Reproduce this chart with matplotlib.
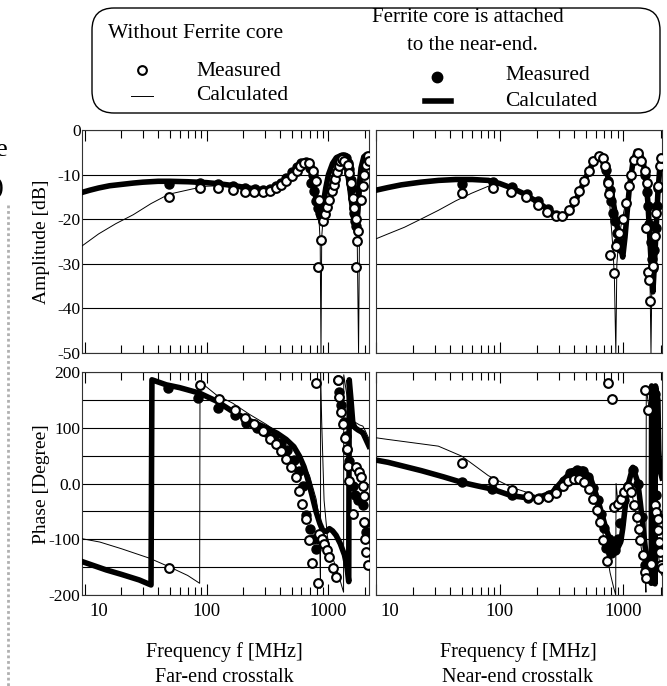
import matplotlib
matplotlib.use('Agg')
import matplotlib.pyplot as plt
from matplotlib.patches import FancyBboxPatch
from matplotlib.ticker import LogLocator, NullFormatter, FixedLocator

plt.rcParams['font.family'] = ['Liberation Serif', 'DejaVu Serif']
plt.rcParams['font.size'] = 14

# ---------------- DATA (MHz, dB / degree) ----------------
# Far-end amplitude
fa_calc_no_f = [9.5, 13, 18, 25, 35, 49, 77, 100, 130, 170, 220, 280, 340, 400, 460, 520, 580, 640, 690, 740, 790,
                830, 855, 868, 880, 910, 960, 1020, 1090, 1170, 1250, 1320, 1400, 1480, 1560, 1640, 1720, 1765,
                1800, 1860, 1930, 2000, 2080, 2150]
fa_calc_no_v = [-26, -23.3, -21, -19, -16.5, -14.4, -13.2, -12.6, -12.5, -12.8, -13.4, -13.9, -13.6, -12.6, -11.2,
                -9.6, -8.0, -7.0, -7.2, -9.0, -13, -18.5, -25, -50, -24, -18.5, -15, -12.3, -9.5, -7.6, -6.8, -7.0,
                -8.3, -10.5, -14, -18.5, -24, -50, -20, -14, -10, -7.5, -6, -6.5]
fa_calc_fe_f = [9.5, 11, 13, 16, 20, 25, 30, 40, 50, 70, 100, 130, 170, 220, 280, 340, 400, 460, 520, 580, 630,
                680, 720, 760, 800, 840, 870, 900, 950, 1000, 1080, 1160, 1250, 1330, 1400, 1480, 1560, 1620,
                1680, 1720, 1780, 1850, 1950, 2050, 2150]
fa_calc_fe_v = [-14, -13.5, -13, -12.5, -12.2, -11.9, -11.7, -11.5, -11.5, -11.6, -11.8, -12.1, -12.5, -13, -13.4,
                -13.2, -12.2, -10.8, -9.3, -8, -7.1, -7.2, -9, -12.5, -16.5, -19, -19.5, -17, -13, -10, -7.5, -6.2,
                -5.8, -6.2, -8, -12, -17, -20.5, -22, -19, -13, -8.5, -6, -5.5, -6]
fa_meas_no_f = [49, 88, 125, 166, 208, 247, 288, 333, 372, 410, 450, 500, 550, 589, 635, 690, 743, 792, 840, 898,
                868, 828, 930, 975, 1018, 1064, 1105, 1140, 1177, 1214, 1246, 1300, 1352, 1440, 1486, 1535, 1583,
                1634, 1687, 1740, 1707, 1687, 1854, 1914, 1974, 2038, 2102, 2142]
fa_meas_no_v = [-15, -13.1, -13.1, -13.4, -13.8, -14, -14, -13.7, -13.1, -12.4, -11.4, -10.4, -9.1, -8, -7.3, -7.3,
                -9.3, -11.5, -15.6, -20.4, -24.6, -30.7, -18.8, -17.2, -15.6, -13.7, -12.4, -11, -9.5, -8.1, -7,
                -6.6, -7, -7.8, -9.6, -11.9, -15.2, -17.4, -20, -22.6, -24.8, -30.7, -15.6, -12.6, -10, -7.8, -5.9,
                -7]
fa_meas_fe_f = [49, 88, 125, 166, 208, 250, 290, 330, 370, 410, 450, 500, 550, 600, 650, 700, 721, 745, 767, 792,
                819, 847, 876, 1250, 1296, 1350, 1400, 1450, 1486, 1535, 1560, 1610, 1634, 1660, 1690]
fa_meas_fe_v = [-12.2, -11.9, -12.2, -12.6, -13, -13.3, -13.5, -13.3, -12.6, -11.8, -10.8, -9.5, -8.3, -7.5, -7.1,
                -8.5, -11.9, -10, -13.7, -15.9, -17.4, -18.5, -19.3, -6.8, -6.1, -6.0, -6.3, -7.5, -8.8, -11.1, -13,
                -16, -18.5, -20.5, -21.5]

# Near-end amplitude
na_calc_no_f = [10, 12.5, 17, 23, 32, 44, 59, 81, 97, 130, 170, 210, 250, 300, 340, 380, 420, 460, 500, 550, 600,
                650, 700, 740, 765, 790, 820, 845, 868, 885, 920, 970, 1030, 1090, 1150, 1220, 1300, 1390, 1470,
                1530, 1580, 1630, 1670, 1700, 1750, 1800, 1860, 1920, 1980, 2050]
na_calc_no_v = [-24.4, -23.3, -21.8, -20, -18, -15.9, -14.2, -12.6, -12.2, -13.5, -15, -17, -18.5, -19.3, -18.8,
                -17, -14.7, -12.5, -10.2, -7.8, -6.2, -5.9, -7, -10.5, -14, -20, -26, -33, -50, -30, -24, -20.5,
                -17, -13.5, -10, -7, -5.3, -6.5, -9, -13, -19, -28, -50, -33, -26, -21, -16, -11, -7.5, -6]
na_calc_fe_f = [10, 12.5, 16, 23, 32, 44, 60, 81, 100, 125, 152, 180, 207, 236, 266, 302, 335, 364, 400, 439, 485,
                530, 575, 618, 660, 701, 740, 770, 820, 872, 930, 987, 1030, 1075, 1120, 1190, 1268, 1350, 1435,
                1510, 1578, 1640, 1700, 1730, 1780, 1844, 1900, 1963, 2050]
na_calc_fe_v = [-13.5, -12.9, -12.3, -11.7, -11.3, -11.1, -11.1, -11.3, -12, -13, -14.1, -15.3, -16.3, -17.5,
                -18.5, -19.6, -19.5, -18.1, -16.5, -14.1, -11.3, -8.9, -7.2, -6.3, -6.5, -7.8, -10, -11.9, -15.5,
                -20, -25, -28.5, -24, -18, -12.6, -7.5, -4.8, -5.2, -6.7, -10.5, -16.3, -25, -33, -36.3, -30,
                -21.5, -14, -8.9, -6]
na_meas_no_f = [49.4, 87.7, 124, 164, 204, 243, 284, 321, 364, 400, 439, 482, 522, 570, 630, 680, 715, 747, 770,
                780, 845, 872, 927, 987, 1051, 1104, 1154, 1228, 1307, 1393, 1482, 1548, 1530, 1578, 1607, 1648,
                1730, 1787, 1844, 1901, 1963, 2025]
na_meas_no_v = [-14.2, -13.1, -13.9, -15, -16.9, -18.4, -19.3, -19.3, -17.9, -15.9, -13.7, -11.5, -9.3, -7, -5.9,
                -6.3, -8.1, -11.9, -14.4, -28.1, -32, -25.9, -23, -20, -16.3, -12.6, -10, -6.7, -5.2, -7, -9.3,
                -11.9, -21.9, -31.9, -33.7, -38.4, -30.4, -23.7, -18.5, -12.6, -8.1, -6.3]
na_meas_fe_f = [49.4, 88, 125, 165, 205, 245, 285, 725, 750, 775, 800, 825, 850, 880, 910, 945, 1500, 1540, 1580,
                1620, 1660, 1700, 1740, 1780, 1820, 1860, 1900]
na_meas_fe_v = [-12.2, -11.7, -12.8, -14.3, -16, -17.8, -19, -9, -11.5, -13.5, -16, -18.5, -20.5, -23, -25, -26.5,
                -10, -14, -17, -21, -25, -29, -31, -27, -22, -17, -13]

# Far-end phase
fp_calc_no_f = [9.5, 13.3, 20, 34, 50, 70, 87.7, 88.3, 100, 120, 164, 225, 309, 423, 578, 699, 792, 840, 860, 862,
                880, 920, 980, 1050, 1150, 1250, 1330, 1335, 1400, 1500, 1650, 1800, 1914, 2000, 2150]
fp_calc_no_v = [-99, -105, -117, -134, -150, -165, -179, 182, 173, 159, 144, 124, 106, 85, 52, 14, -28, -63, -188,
                199, 110, -30, -95, -125, -150, -175, -195, 195, 165, 130, 110, 105, 103, 95, 80]
fp_calc_fe_f = [9.5, 15, 20, 28, 35, 35.6, 46.7, 60, 87.7, 120, 164, 230, 309, 380, 450, 520, 578, 630, 676, 730,
                792, 850, 898, 960, 1018, 1080, 1155, 1250, 1352, 1420, 1466, 1480, 1530, 1583, 1650, 1750, 1850,
                1914, 2000, 2150]
fp_calc_fe_v = [-140, -155, -163, -173, -182, 186, 177, 172, 162, 148, 129, 112, 100, 90, 79, 66, 49, 30, 8, -20,
                -51, -72, -84, -86, -81, -85, -93, -108, -128, -150, -176, 186, 150, 109, 100, 96, 93, 91, 82, 67]
fp_meas_no_f = [48.8, 87.7, 126, 170, 207, 247, 290, 333, 372, 409, 450, 494, 543, 578, 604, 648, 690, 735, 792,
                818, 840, 888, 927, 975, 1018, 1084, 1155, 1191, 1231, 1270, 1327, 1378, 1413, 1440, 1466, 1583,
                1682, 1770, 1854, 1914, 1974, 1974, 2007, 2038, 2102]
fp_meas_no_v = [-152, 177, 151, 132, 118, 106, 94, 80, 70, 58, 44, 29, 11, -13, -36, -63, -102, -143, 180, -179,
                -90, -99, -108, -119, -131, -152, -167, 186, 156, 129, 106, 82, 61, 32, 5, -54, 29, 20, 11, -4, -22,
                -69, -99, -122, -146]
fp_meas_fe_f = [48, 85, 124, 170, 211, 260, 310, 360, 410, 460, 520, 570, 620, 656, 699, 744, 792, 830, 1191,
                1231, 1270, 1330, 1380, 1420, 1470, 1583, 1650, 1760, 1914, 2000, 2038]
fp_meas_fe_v = [171, 153, 135, 122, 109, 100, 92, 83, 72, 60, 42, 22, -5, -57, -81, -99, -117, -100, 186, 165,
                140, 110, 85, 60, 40, -4, -20, -30, -39, -70, -87]

# Near-end phase
np_calc_no_f = [10, 12.5, 20, 31.9, 49.4, 81, 125, 172, 207, 250, 290, 330, 370, 420, 480, 530, 575, 620, 660,
                700, 740, 780, 830, 866, 872, 900, 960, 1020, 1084, 1160, 1230, 1300, 1370, 1450, 1500, 1520, 1530,
                1600, 1700, 1800, 1900, 2000, 2050]
np_calc_no_v = [82, 79, 73, 67, 49, 14, -7, -17, -24, -22, -14, -3, 5, 7, 3, -10, -30, -52, -75, -100, -130, -160,
                -185, -200, 0, -32, -26, -15, -6, -16, -40, -80, -105, -140, -170, -195, 170, 140, 60, -30, -120,
                -160, -165]
np_calc_fe_f = [10, 12.5, 23.3, 35, 49.4, 65, 86.7, 125, 172, 207, 266, 321, 388, 467, 546, 618, 670, 722, 770,
                818, 899, 950, 987, 1030, 1084, 1191, 1307, 1370, 1435, 1510, 1578, 1678, 1690, 1790, 1800, 1815,
                1900, 1930, 1963, 2050]
np_calc_fe_v = [42, 38, 23, 12, 2, -4, -10, -22, -26, -25, -16, 5, 23, 26, 8, -28, -55, -81, -98, -113, -116,
                -105, -81, -45, -4, 29, 2, -35, -75, -120, -158, -179, 175, 168, -180, 175, 150, 60, 26, 10]
np_meas_no_f = [50, 89, 125, 170, 205, 247, 284, 325, 359, 400, 439, 482, 530, 570, 607, 646, 687, 731, 755, 803,
                845, 899, 957, 1018, 1084, 1154, 1228, 1283, 1333, 1368, 1435, 1482, 1512, 1482, 1578, 1678, 1787,
                1844, 1901, 1901, 1932, 1963, 2025, 2056]
np_meas_no_v = [36, 5, -11, -22, -28, -25, -17, -4, 5, 8, 8, 2, -10, -28, -48, -69, -102, -139, 181, 151, -42,
                -36, -28, -16, -7, -16, -39, -60, -81, -102, -128, -158, -170, 168, 132, -145, -39, -51, -63, -84,
                -105, -122, -146, -152]
np_meas_fe_f = [49.4, 87, 125, 170, 207, 250, 290, 330, 370, 420, 470, 520, 570, 620, 660, 700, 722, 760, 800,
                830, 860, 900, 940, 1020, 1084, 1191, 1300, 1400, 1482, 1530, 1600, 1730, 1800, 1844, 1900, 1960]
np_meas_fe_v = [2, -10, -21, -26, -26, -20, -10, 4, 18, 24, 22, 12, -8, -30, -55, -80, -116, -100, -125, -110,
                -120, -100, -70, -30, -4, 25, 0, -60, -147, -160, -170, 168, 160, -20, -60, -120]

amp_ticks = [0, -10, -20, -30, -40, -50]
amp_labels = ['0', '-10', '-20', '-30', '-40', '-50']
ph_ticks = [200, 100, 0, -100, -200]
ph_labels = ['200', '100', '0.0', '-100', '-200']
ph_grid = [150, 50, -50, -150]
f_ticks = [10, 100, 1000]
f_labels = ['10', '100', '1000']

# ---------------- FIGURE ----------------
W, H = 667, 686
fig = plt.figure(figsize=(W / 100, H / 100), dpi=100)


def caja(x0, y0, x1, y1):
    return [x0 / W, 1 - y1 / H, (x1 - x0) / W, (y1 - y0) / H]


fondo = fig.add_axes([0, 0, 1, 1])
fondo.set_xlim(0, W)
fondo.set_ylim(H, 0)
fondo.axis('off')

ax_fa = fig.add_axes(caja(82, 130, 369, 353))
ax_na = fig.add_axes(caja(376, 130, 662, 353))
ax_fp = fig.add_axes(caja(82, 372, 369, 595))
ax_np = fig.add_axes(caja(376, 372, 662, 595))


def dibujar(ax, cf, cv, tf, tv, of, ov, ff, fv):
    ax.plot(cf, cv, color='black', lw=0.7, zorder=3)
    ax.plot(tf, tv, color='black', lw=4, zorder=4, solid_joinstyle='round')
    ax.plot(ff, fv, 'o', ms=6.5, mfc='black', mec='black', ls='none', zorder=5)
    ax.plot(of, ov, 'o', ms=6.3, mfc='white', mec='black', mew=1.5, ls='none', zorder=6)


dibujar(ax_fa, fa_calc_no_f, fa_calc_no_v, fa_calc_fe_f, fa_calc_fe_v,
        fa_meas_no_f, fa_meas_no_v, fa_meas_fe_f, fa_meas_fe_v)
dibujar(ax_na, na_calc_no_f, na_calc_no_v, na_calc_fe_f, na_calc_fe_v,
        na_meas_no_f, na_meas_no_v, na_meas_fe_f, na_meas_fe_v)
dibujar(ax_fp, fp_calc_no_f, fp_calc_no_v, fp_calc_fe_f, fp_calc_fe_v,
        fp_meas_no_f, fp_meas_no_v, fp_meas_fe_f, fp_meas_fe_v)
dibujar(ax_np, np_calc_no_f, np_calc_no_v, np_calc_fe_f, np_calc_fe_v,
        np_meas_no_f, np_meas_no_v, np_meas_fe_f, np_meas_fe_v)

for ax in [ax_fa, ax_na, ax_fp, ax_np]:
    ax.set_xscale('log')
    ax.xaxis.set_major_locator(FixedLocator(f_ticks))
    ax.xaxis.set_minor_locator(LogLocator(base=10, subs=range(2, 10)))
    ax.xaxis.set_minor_formatter(NullFormatter())
    ax.set_xticklabels([])
    ax.tick_params(which='both', direction='in', top=True, bottom=True, left=False, right=False)
    ax.tick_params(which='major', length=8, width=0.8)
    ax.tick_params(which='minor', length=5.5, width=0.8)
    ax.tick_params(axis='y', pad=1, labelsize=12.5)
    for s in ax.spines.values():
        s.set_linewidth(0.8)
        s.set_color('#333333')

for ax in [ax_fa, ax_fp]:
    ax.set_xlim(9.5, 2150)
for ax in [ax_na, ax_np]:
    ax.set_xlim(10, 2050)

for ax in [ax_fa, ax_na]:
    ax.set_ylim(-50, 0)
    ax.set_yticks(amp_ticks)
    ax.grid(axis='y', color='black', lw=0.8)
for ax in [ax_fp, ax_np]:
    ax.set_ylim(-200, 200)
    ax.set_yticks(ph_ticks)
    ax.set_yticks(ph_grid, minor=True)
    ax.grid(axis='y', which='both', color='black', lw=0.8)

ax_fa.set_yticklabels(amp_labels)
ax_fp.set_yticklabels(ph_labels)
ax_na.set_yticklabels([])
ax_np.set_yticklabels([])

# etiquetas del eje x (el "10" va corrido a la derecha como en el original)
for ax in [ax_fp, ax_np]:
    for f, t in zip(f_ticks, f_labels):
        dx = 10 if t == '10' else 0
        ax.annotate(t, xy=(f, 0), xycoords=('data', 'axes fraction'), xytext=(dx, -6),
                    textcoords='offset points', ha='center', va='top', fontsize=13.5)

# textos de ejes
fondo.text(42, 242, 'Amplitude [dB]', rotation=90, ha='center', va='center', fontsize=14)
fondo.text(42, 484, 'Phase [Degree]', rotation=90, ha='center', va='center', fontsize=14)
fondo.text(224, 652, 'Frequency f [MHz]', ha='center', va='center', fontsize=14.5)
fondo.text(224, 677, 'Far-end crosstalk', ha='center', va='center', fontsize=14.5)
fondo.text(518, 652, 'Frequency f [MHz]', ha='center', va='center', fontsize=14.5)
fondo.text(518, 677, 'Near-end crosstalk', ha='center', va='center', fontsize=14.5)

# restos del borde izquierdo de la pagina escaneada
fondo.text(-4, 150, 'e', ha='left', va='center', fontsize=19)
fondo.text(-6, 188, ')', ha='left', va='center', fontsize=19)
fondo.plot([8, 8], [205, 686], color='#b0b0b0', lw=2, ls=(0, (1, 1)))

# leyenda
marco = FancyBboxPatch((92, 8), 568, 105, boxstyle='round,pad=0,rounding_size=22',
                       fc='white', ec='black', lw=1)
fondo.add_patch(marco)
fondo.text(196, 33, 'Without Ferrite core', ha='center', va='center', fontsize=15.5)
fondo.text(468, 17, 'Ferrite core is attached', ha='center', va='center', fontsize=15)
fondo.text(472, 45, 'to the near-end.', ha='center', va='center', fontsize=15)
fondo.plot([142], [70], 'o', ms=6.3, mfc='white', mec='black', mew=1.5)
fondo.plot([131, 153], [96, 96], color='black', lw=0.7)
fondo.text(196, 71, 'Measured', ha='left', va='center', fontsize=15.5)
fondo.text(196, 96, 'Calculated', ha='left', va='center', fontsize=15.5)
fondo.plot([437], [77], 'o', ms=7.5, mfc='black', mec='black')
fondo.plot([425, 451], [101, 101], color='black', lw=4)
fondo.text(505, 76, 'Measured', ha='left', va='center', fontsize=15.5)
fondo.text(505, 101, 'Calculated', ha='left', va='center', fontsize=15.5)

fig.savefig('out.png', dpi=100)
